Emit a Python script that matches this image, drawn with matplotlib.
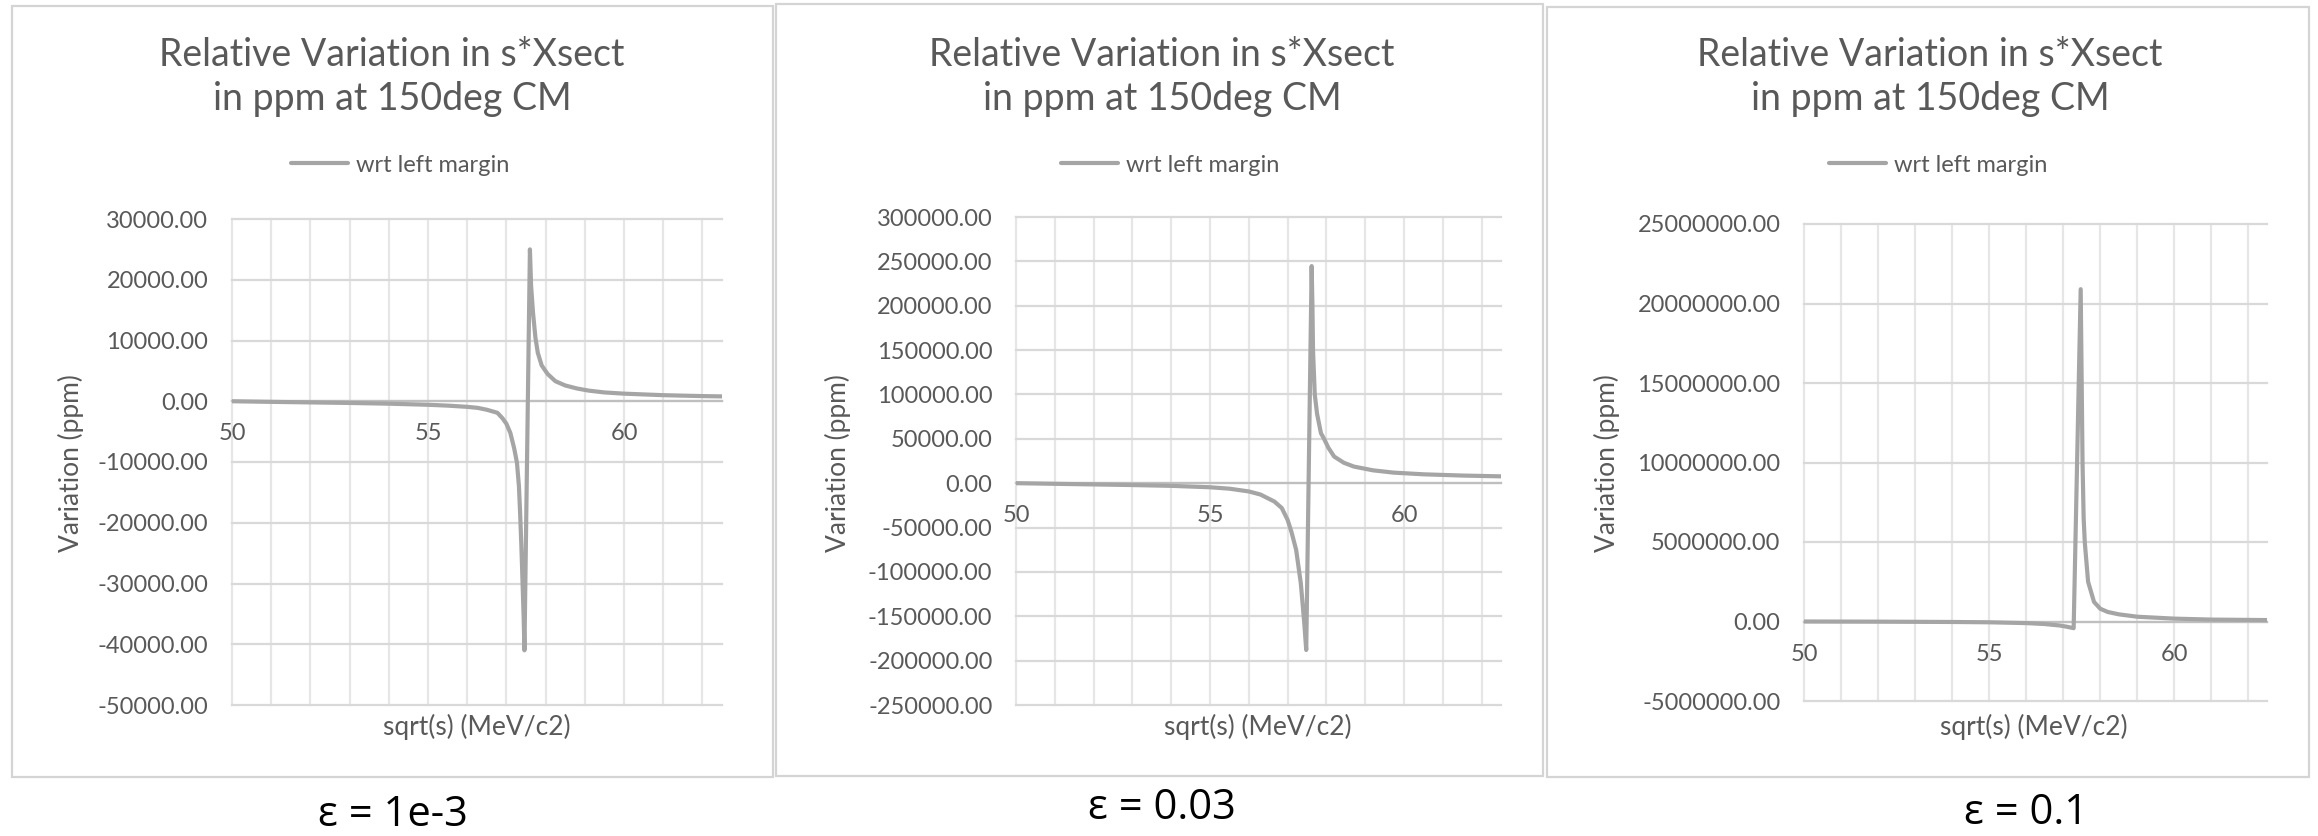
import matplotlib
matplotlib.use("Agg")
import matplotlib.pyplot as plt
from matplotlib.patches import Rectangle

plt.rcParams['font.family'] = ['Lato', 'DejaVu Sans']

# ---- data ----
title = "Relative Variation in s*Xsect\nin ppm at 150deg CM"
series_name = "wrt left margin"
x_label = "sqrt(s) (MeV/c2)"
y_label = "Variation (ppm)"
eps_labels = ["ε = 1e-3", "ε = 0.03", "ε = 0.1"]

# eps = 1e-3
x1 = [50, 51, 52, 53, 54, 55, 55.5, 56, 56.27, 56.5, 56.77, 56.9, 57.0, 57.1, 57.2,
      57.27, 57.32, 57.35, 57.38, 57.41, 57.44, 57.46, 57.60, 57.63, 57.68, 57.74,
      57.8, 57.9, 58.05, 58.25, 58.5, 58.8, 59.1, 59.5, 60, 61, 62, 62.5]
y1 = [0, -100, -190, -280, -400, -580, -720, -920, -1090, -1400, -1900, -2800, -3700,
      -5200, -7800, -10150, -14000, -18400, -23500, -29400, -35500, -41000, 25000,
      19000, 14500, 10500, 8000, 5900, 4500, 3300, 2600, 2100, 1750, 1450, 1250,
      1000, 850, 800]

# eps = 0.03
x2 = [50, 51, 52, 53, 54, 55, 55.5, 56, 56.3, 56.66, 56.85, 57.0, 57.1, 57.22, 57.34,
      57.43, 57.48, 57.62, 57.64, 57.655, 57.70, 57.76, 57.86, 57.94, 58.05, 58.2,
      58.45, 58.71, 59.2, 59.73, 60.5, 61.5, 62.5]
y2 = [0, -700, -1400, -2100, -3000, -4600, -6200, -9300, -12800, -20700, -28000,
      -41300, -55000, -75100, -112600, -157700, -188000, 244700, 200000, 150000,
      100000, 78000, 56300, 50000, 40000, 30000, 23000, 18700, 14500, 11900, 10000,
      8600, 7700]

# eps = 0.1
x3 = [50, 52, 54, 55, 56, 56.5, 56.9, 57.1, 57.28, 57.47, 57.52, 57.55, 57.58, 57.67,
      57.83, 58.0, 58.2, 58.5, 59, 60, 61, 62.5]
y3 = [0, -10000, -30000, -50000, -100000, -160000, -250000, -330000, -420000,
      20900000, 10000000, 6500000, 5000000, 2500000, 1230000, 800000, 600000,
      450000, 300000, 180000, 120000, 90000]

xs = [x1, x2, x3]
ys = [y1, y2, y3]
y_ticks = [list(range(-50000, 30001, 10000)),
           list(range(-250000, 300001, 50000)),
           list(range(-5000000, 25000001, 5000000))]

W, H = 2318, 836
fig = plt.figure(figsize=(W / 100, H / 100), dpi=100)
fig.patch.set_facecolor('white')

def fbox(l, t, r, b):
    return [l / W, 1 - b / H, (r - l) / W, (b - t) / H]

# pixel layout of each panel: border, plot area, text anchors
borders = [(12, 6, 773, 777), (776, 4, 1543, 776), (1547, 7, 2309, 777)]
plots = [(232, 219, 722, 705), (1016, 217, 1501, 705), (1804, 224, 2267, 701)]
centers = [392, 1162, 1930]
ylab_x = [71, 838, 1607]
xlab_x = [477, 1258, 2034]
eps_pos = [(393, 815), (1162, 808), (2026, 813)]

text_col = '#595959'
line_col = '#A5A5A5'
grid_col = '#D9D9D9'

for i in range(3):
    l, t, r, b = borders[i]
    fig.patches.append(Rectangle((l / W, 1 - b / H), (r - l) / W, (b - t) / H,
                                 transform=fig.transFigure, fill=False,
                                 edgecolor='#D4D4D4', lw=1.6))

    ax = fig.add_axes(fbox(*plots[i]))
    ax.set_xlim(50, 62.5)
    ax.set_ylim(y_ticks[i][0], y_ticks[i][-1])

    for v in range(50, 63):
        ax.axvline(v, color='#E6E6E6', lw=1.6, zorder=0, clip_on=False)
    for v in y_ticks[i]:
        ax.axhline(v, color=grid_col, lw=1.6, zorder=0, clip_on=False)

    ax.plot(xs[i], ys[i], color=line_col, lw=3.0, label=series_name,
            solid_joinstyle='round', solid_capstyle='round', zorder=3)

    for s in ['top', 'right', 'left']:
        ax.spines[s].set_visible(False)
    ax.spines['bottom'].set_position(('data', 0))
    ax.spines['bottom'].set_color('#BFBFBF')
    ax.spines['bottom'].set_linewidth(1.6)
    ax.spines['bottom'].set_zorder(1)

    ax.set_xticks([50, 55, 60])
    ax.set_xticklabels(['50', '55', '60'])
    ax.set_yticks(y_ticks[i])
    ax.set_yticklabels([f"{v:.2f}" for v in y_ticks[i]])
    ax.tick_params(axis='y', length=0, pad=17, labelsize=17, labelcolor=text_col)
    ax.tick_params(axis='x', length=0, pad=16, labelsize=17, labelcolor=text_col)

    cx = centers[i]
    fig.text(cx / W, 1 - 77 / H, title, ha='center', va='center', fontsize=27,
             color=text_col, linespacing=1.25)
    ax.legend(loc='center', bbox_to_anchor=((cx + 8) / W, 1 - 165 / H),
              bbox_transform=fig.transFigure, frameon=False, fontsize=17,
              labelcolor=text_col, handlelength=2.4, handletextpad=0.35)
    fig.text(ylab_x[i] / W, 1 - 463 / H, y_label, rotation=90, ha='center',
             va='center', fontsize=19, color=text_col)
    fig.text(xlab_x[i] / W, 1 - 727 / H, x_label, ha='center', va='center',
             fontsize=19, color=text_col)
    ex, ey = eps_pos[i]
    fig.text(ex / W, 1 - ey / H, eps_labels[i], ha='center', va='center',
             fontsize=30, color='black', family=['Open Sans', 'DejaVu Sans'])

fig.savefig('out.png', dpi=100, facecolor='white')
